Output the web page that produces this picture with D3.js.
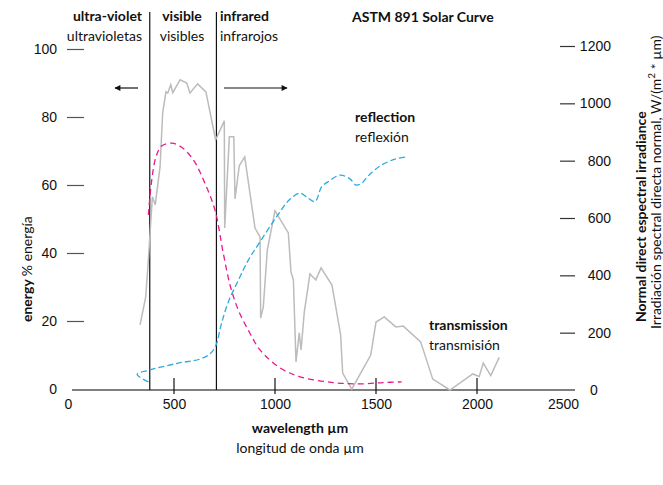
<!DOCTYPE html>
<html>
<head>
<meta charset="utf-8">
<script src="https://cdn.jsdelivr.net/npm/d3@7"></script>
<style>
  body { margin: 0; background: #fff; }
  svg { font-family: Lato, "Noto Sans", sans-serif; }
  .lbl { font-size: 14px; fill: #111; }
  .b { font-weight: bold; }
</style>
</head>
<body>
<div id="graf"></div>
<script>
// solar irradiance (right axis), [wavelength nm, W/(m2*um)]
var solar = [
  [332, 227], [360, 325], [373, 454], [393, 674], [407, 646], [431, 779], [444, 967],
  [460, 1040], [469, 1036], [484, 1065], [494, 1037], [530, 1082], [563, 1071], [579, 1036],
  [617, 1068], [658, 1040], [706, 873], [749, 939], [751, 565], [774, 883], [796, 883],
  [802, 667], [823, 782], [850, 813], [901, 565], [926, 534], [929, 251], [942, 290],
  [962, 489], [1000, 625], [1066, 548], [1079, 412], [1091, 384], [1104, 98], [1120, 199],
  [1129, 140], [1145, 272], [1173, 405], [1202, 384], [1228, 426], [1282, 366], [1325, 192],
  [1335, 59], [1380, 3], [1474, 122], [1500, 237], [1541, 255], [1598, 220], [1635, 223],
  [1721, 168], [1781, 38], [1866, 0], [1979, 56], [2011, 47], [2031, 94], [2068, 50], [2110, 114]
]

// transmission % (magenta)
var transmission = [
  [373, 51.2], [390, 61.5], [411, 68.3], [439, 71.5], [489, 72.3], [538, 71.1], [596, 67.4],
  [653, 60.5], [703, 52.6], [744, 39.9], [780, 30], [820, 23], [876, 16.4], [926, 11.5],
  [1025, 6.2], [1124, 3.6], [1287, 1.9], [1421, 1.5], [1535, 1.9], [1627, 2.1]
]

// reflection % (cyan)
var reflection = [
  [373, 2.1], [318, 4.3], [381, 5.6], [521, 7.6], [629, 8.8], [678, 10.3], [708, 12.9],
  [733, 18.8], [767, 25.3], [817, 31.8], [868, 37.9], [926, 43.3], [1008, 50.7], [1074, 55.8],
  [1124, 57.6], [1158, 56.4], [1198, 55.1], [1231, 59.5], [1264, 61.0], [1322, 62.9],
  [1371, 61.8], [1401, 60.0], [1431, 60.6], [1460, 62.6], [1520, 65.6], [1594, 67.6], [1644, 68.2]
]

var xTicks = [0, 500, 1000, 1500, 2000, 2500]
var leftTicks = [0, 20, 40, 60, 80, 100]
var rightTicks = [0, 200, 400, 600, 800, 1000, 1200]
var bands = [380, 710]

var svg = d3.select('#graf')
            .append('svg')
            .attr('width', 663)
            .attr('height', 485)

var x = d3.scaleLinear().domain([0, 2500]).range([73, 578])
var yL = d3.scaleLinear().domain([0, 100]).range([389, 49])
var yR = d3.scaleLinear().domain([0, 1200]).range([390, 46])
var fmt = d3.format("d")

// left axis
var gl = svg.append("g")
  .attr("transform", "translate(84,0)")
  .call(d3.axisLeft(yL).tickValues(leftTicks).tickFormat(fmt).tickSize(17).tickPadding(10))
gl.select(".domain").remove()
gl.selectAll(".tick line").attr("stroke", "#555").attr("stroke-width", 1.2)
  .filter(d => d == 0).remove()
gl.selectAll(".tick text").attr("class", "lbl")

// right axis
var gr = svg.append("g")
  .attr("transform", "translate(560,0)")
  .call(d3.axisRight(yR).tickValues(rightTicks).tickFormat(fmt).tickSize(15))
gr.select(".domain").remove()
gr.selectAll(".tick line").attr("stroke", "#333").attr("stroke-width", 1.2)
  .filter(d => d == 0).remove()
gr.selectAll(".tick text").attr("class", "lbl")
  .attr("text-anchor", d => d == 0 ? "start" : "end")
  .attr("x", d => d == 0 ? 30 : 51)

// x axis
svg.append("line")
  .attr("x1", 72).attr("x2", 575)
  .attr("y1", 390).attr("y2", 390)
  .attr("stroke", "#555").attr("stroke-width", 1.6)

var gx = svg.append("g")
  .attr("transform", "translate(0,390)")
  .call(d3.axisBottom(x).tickValues(xTicks).tickFormat(fmt).tickSize(0).tickPadding(9))
gx.select(".domain").remove()
gx.selectAll(".tick text").attr("class", "lbl")
  .attr("x", d => d == 0 ? -5 : (d == 2500 ? -15 : 0))

svg.selectAll(".xt")
  .data(xTicks.filter(d => d > 0 && d < 2500))
  .enter().append("line")
  .attr("x1", d => x(d)).attr("x2", d => x(d))
  .attr("y1", 378).attr("y2", 394)
  .attr("stroke", "#111").attr("stroke-width", 1.2)

// band separators
svg.selectAll(".band")
  .data(bands)
  .enter().append("line")
  .attr("x1", d => x(d)).attr("x2", d => x(d))
  .attr("y1", 12).attr("y2", 390)
  .attr("stroke", "#111").attr("stroke-width", 1.2)

// curves
var lineR = d3.line().x(d => x(d[0])).y(d => yR(d[1]))
var lineL = d3.line().x(d => x(d[0])).y(d => yL(d[1])).curve(d3.curveCatmullRom)

svg.append("path").datum(solar)
  .attr("d", lineR)
  .attr("fill", "none").attr("stroke", "#bcbcbc").attr("stroke-width", 1.5)

svg.append("path").datum(transmission)
  .attr("d", lineL)
  .attr("fill", "none").attr("stroke", "#e8198b").attr("stroke-width", 1.3)
  .attr("stroke-dasharray", "6,4")

svg.append("path").datum(reflection)
  .attr("d", lineL)
  .attr("fill", "none").attr("stroke", "#29abe2").attr("stroke-width", 1.3)
  .attr("stroke-dasharray", "6,3")

// arrows
var defs = svg.append("defs")
defs.append("marker").attr("id", "ah")
  .attr("viewBox", "0 0 10 10").attr("refX", 9).attr("refY", 5)
  .attr("markerWidth", 8).attr("markerHeight", 6).attr("orient", "auto")
  .attr("markerUnits", "userSpaceOnUse")
  .append("path").attr("d", "M0,0L10,5L0,10Z").attr("fill", "#111")

svg.append("line").attr("x1", 138).attr("x2", 115).attr("y1", 88).attr("y2", 88)
  .attr("stroke", "#111").attr("stroke-width", 1.2).attr("marker-end", "url(#ah)")
svg.append("line").attr("x1", 224).attr("x2", 287).attr("y1", 88).attr("y2", 88)
  .attr("stroke", "#111").attr("stroke-width", 1.2).attr("marker-end", "url(#ah)")

// text labels
function two(xp, y1, a, b, anchor) {
  svg.append("text").attr("class", "lbl b").attr("x", xp).attr("y", y1)
    .attr("text-anchor", anchor).text(a)
  svg.append("text").attr("class", "lbl").attr("x", xp).attr("y", y1 + 20)
    .attr("text-anchor", anchor).text(b)
}
two(142, 21, "ultra-violet", "ultravioletas", "end")
two(182, 21, "visible", "visibles", "middle")
two(220, 21, "infrared", "infrarojos", "start")
two(355, 122, "reflection", "reflexión", "start")
two(429, 330, "transmission", "transmisión", "start")
two(300, 433, "wavelength µm", "longitud de onda µm", "middle")

svg.append("text").attr("class", "lbl b").attr("x", 352).attr("y", 22).text("ASTM 891 Solar Curve")

var ty = svg.append("text").attr("class", "lbl")
  .attr("transform", "translate(32,322) rotate(-90)")
ty.append("tspan").attr("class", "b").text("energy ")
ty.append("tspan").text("% energía")

svg.append("text").attr("class", "lbl b")
  .attr("transform", "translate(646,322) rotate(-90)")
  .text("Normal direct espectral irradiance")
var t2 = svg.append("text").attr("class", "lbl")
  .attr("transform", "translate(661,329) rotate(-90)")
t2.append("tspan").text("Irradiación spectral directa normal, W/(m")
t2.append("tspan").attr("baseline-shift", "super").style("font-size", "10px").text("2")
t2.append("tspan").text(" * µm)")
</script>
</body>
</html>
